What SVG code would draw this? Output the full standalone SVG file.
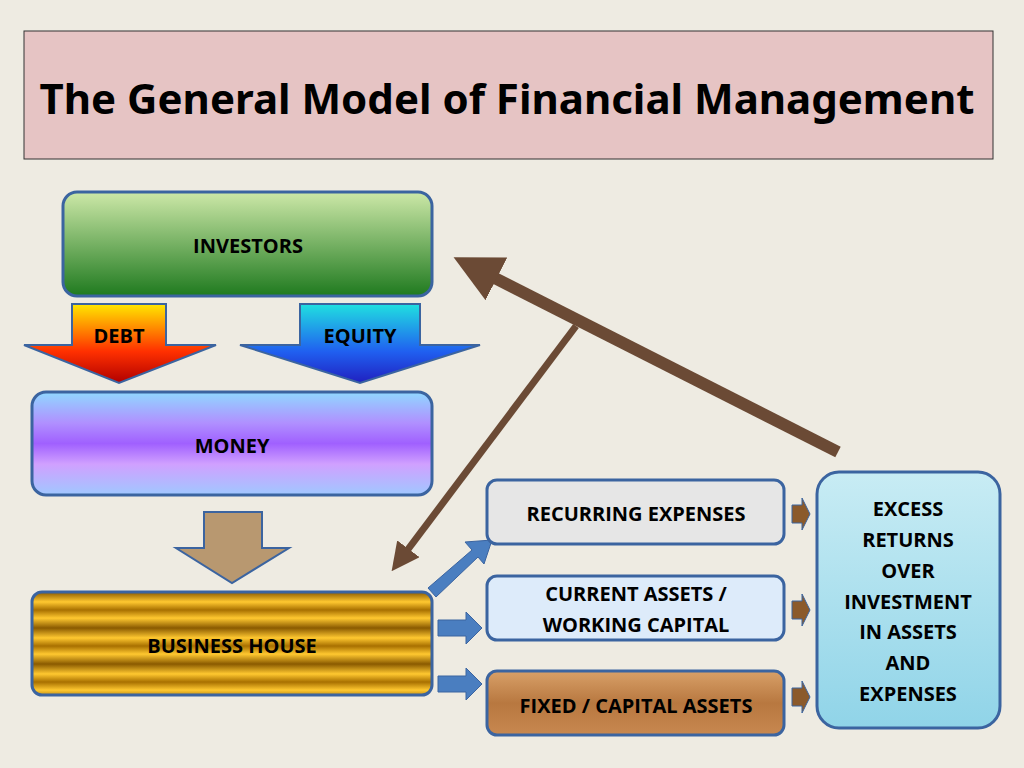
<svg xmlns="http://www.w3.org/2000/svg" width="1024" height="768" viewBox="0 0 1024 768">
<style>
.t{font-family:"Open Sans","Noto Sans","Liberation Sans",sans-serif;font-weight:bold;fill:#000;text-anchor:middle}
.s{font-size:20px}
.box{stroke:#3B64A0;stroke-width:3}
</style>
<defs>
<linearGradient id="gInv" x1="0" y1="0" x2="0" y2="1"><stop offset="0" stop-color="#CDE8A8"/><stop offset="1" stop-color="#1F7A1F"/></linearGradient>
<linearGradient id="gDebt" x1="0" y1="0" x2="0" y2="1"><stop offset="0" stop-color="#FFE800"/><stop offset="0.6" stop-color="#FF3000"/><stop offset="1" stop-color="#B00000"/></linearGradient>
<linearGradient id="gEq" x1="0" y1="0" x2="0" y2="1"><stop offset="0" stop-color="#20E0E0"/><stop offset="0.6" stop-color="#2060F0"/><stop offset="1" stop-color="#2020C0"/></linearGradient>
<linearGradient id="gMon" x1="0" y1="0" x2="0" y2="1"><stop offset="0" stop-color="#90D8FF"/><stop offset="0.3" stop-color="#B090FF"/><stop offset="0.5" stop-color="#A060FF"/><stop offset="0.7" stop-color="#D0A0FF"/><stop offset="1" stop-color="#A0C8FF"/></linearGradient>
<linearGradient id="gBus" gradientUnits="userSpaceOnUse" x1="0" y1="592" x2="0" y2="610" spreadMethod="reflect"><stop offset="0" stop-color="#8A5A00"/><stop offset="0.55" stop-color="#FFC830"/><stop offset="1" stop-color="#A87000"/></linearGradient>
<linearGradient id="gWood" x1="0" y1="0" x2="0" y2="1"><stop offset="0" stop-color="#D8A068"/><stop offset="0.5" stop-color="#B87840"/><stop offset="1" stop-color="#C88850"/></linearGradient>
<linearGradient id="gEx" x1="0" y1="0" x2="0" y2="1"><stop offset="0" stop-color="#C8ECF4"/><stop offset="1" stop-color="#90D4E8"/></linearGradient>
<marker id="ah" markerWidth="4" markerHeight="4" refX="2" refY="2" orient="auto"><path d="M0,0L4,2L0,4Z" fill="#6B4A35"/></marker>
</defs>
<rect width="1024" height="768" fill="#EEEBE2"/>
<g id="title"><rect x="24" y="31" width="969" height="128" fill="#E6C4C4" stroke="#333" stroke-width="1"/>
<text class="t" x="507" y="114" font-size="42" style="font-family:'Noto Sans','Liberation Sans',sans-serif">The General Model of Financial Management</text></g>
<g id="connectors">
<line x1="838" y1="452" x2="475" y2="268" stroke="#6B4A35" stroke-width="12" marker-end="url(#ah)"/>
<line x1="576" y1="326" x2="400" y2="560" stroke="#6B4A35" stroke-width="7" marker-end="url(#ah)"/>
<path d="M428,588L472,550L465,542L492,540L484,564L478,557L436,597Z" fill="#4A7EC0" stroke="#3B64A0"/>
<path d="M438,620H466V612L482,628L466,644V636H438Z" fill="#4A7EC0" stroke="#3B64A0"/>
<path d="M438,676H466V668L482,684L466,700V692H438Z" fill="#4A7EC0" stroke="#3B64A0"/>
<path d="M792,505H802V498L810,514L802,530V523H792Z" fill="#8B5A2B" stroke="#3B64A0"/>
<path d="M792,601H802V594L810,610L802,626V619H792Z" fill="#8B5A2B" stroke="#3B64A0"/>
<path d="M792,688H802V681L810,697L802,713V706H792Z" fill="#8B5A2B" stroke="#3B64A0"/>
<path d="M204,512H262V548H289L232,583L176,548H204Z" fill="#B89870" stroke="#3B64A0" stroke-width="2"/>
</g>
<g id="investors"><rect class="box" x="63" y="192" width="369" height="104" rx="14" fill="url(#gInv)"/><text class="t s" x="248" y="253">INVESTORS</text></g>
<g id="debt"><path d="M72,304H166V345H216L119,383L24,345H72Z" fill="url(#gDebt)" stroke="#3B64A0" stroke-width="2"/><text class="t s" x="119" y="343">DEBT</text></g>
<g id="equity"><path d="M300,304H420V345H480L360,383L240,345H300Z" fill="url(#gEq)" stroke="#3B64A0" stroke-width="2"/><text class="t s" x="360" y="343">EQUITY</text></g>
<g id="money"><rect class="box" x="32" y="392" width="400" height="103" rx="14" fill="url(#gMon)"/><text class="t s" x="232" y="453">MONEY</text></g>
<g id="business"><rect class="box" x="32" y="592" width="400" height="103" rx="10" fill="url(#gBus)"/><text class="t s" x="232" y="653">BUSINESS HOUSE</text></g>
<g id="recurring"><rect class="box" x="487" y="480" width="297" height="64" rx="10" fill="#E6E6E6"/><text class="t s" x="636" y="521">RECURRING  EXPENSES</text></g>
<g id="current"><rect class="box" x="487" y="576" width="297" height="64" rx="10" fill="#DDEBFA"/><text class="t s" x="636" y="601">CURRENT ASSETS /</text><text class="t s" x="636" y="632">WORKING CAPITAL</text></g>
<g id="fixed"><rect class="box" x="487" y="671" width="297" height="64" rx="10" fill="url(#gWood)"/><text class="t s" x="636" y="713">FIXED / CAPITAL ASSETS</text></g>
<g id="excess"><rect class="box" x="817" y="472" width="183" height="256" rx="22" fill="url(#gEx)"/>
<text class="t s" x="908" y="516">EXCESS</text><text class="t s" x="908" y="547">RETURNS</text><text class="t s" x="908" y="578">OVER</text><text class="t s" x="908" y="609">INVESTMENT</text><text class="t s" x="908" y="639">IN ASSETS</text><text class="t s" x="908" y="670">AND</text><text class="t s" x="908" y="701">EXPENSES</text></g>
</svg>
